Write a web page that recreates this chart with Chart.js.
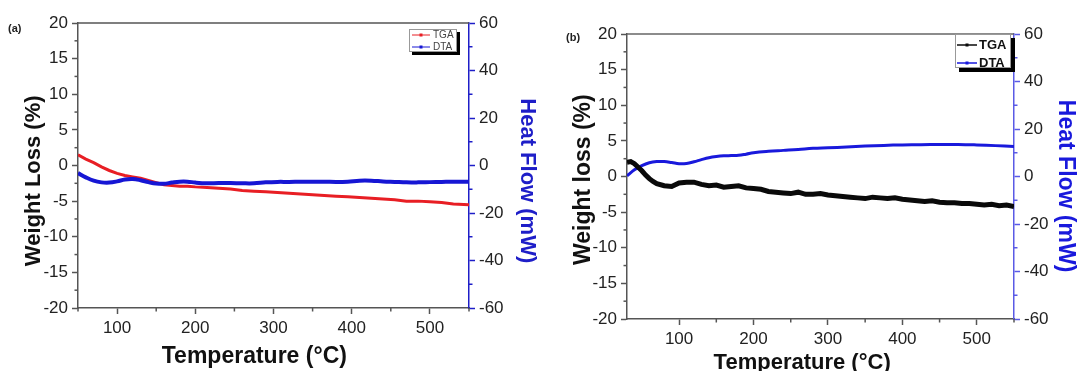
<!DOCTYPE html>
<html>
<head>
<meta charset="utf-8">
<script src="https://cdn.jsdelivr.net/npm/chart.js@4.4.1/dist/chart.umd.min.js"></script>
<style>
  body { margin: 0; background: #fff; }
  #wrap { position: relative; width: 1078px; height: 371px; overflow: hidden; }
  canvas { position: absolute; top: 0; }
  #chartA { left: 0; }
  #chartB { left: 545px; }
</style>
</head>
<body>
<div id="wrap">
  <canvas id="chartA" width="545" height="371"></canvas>
  <canvas id="chartB" width="533" height="371"></canvas>
</div>
<script>
// ---- panel (a) ----
const tempA = [50, 60, 70, 80, 90, 100, 110, 120, 130, 140, 150, 160, 170, 180, 190, 200,
  215, 230, 245, 260, 275, 290, 305, 320, 335, 350, 365, 380, 395, 410, 425, 440, 455,
  470, 485, 500, 515, 530, 550];
const tgaA = [1.5, 0.9, 0.4, -0.2, -0.7, -1.1, -1.4, -1.6, -1.8, -2.1, -2.4, -2.7, -2.8, -2.9, -2.9, -3.0,
  -3.1, -3.2, -3.3, -3.5, -3.6, -3.7, -3.8, -3.9, -4.0, -4.1, -4.2, -4.3, -4.4, -4.5, -4.6, -4.7, -4.8,
  -5.0, -5.0, -5.1, -5.2, -5.4, -5.5];
const dtaA = [-3.2, -5.0, -6.4, -7.1, -7.2, -6.7, -5.9, -5.7, -6.2, -7.0, -7.6, -7.7, -7.2, -6.8, -6.8, -7.2,
  -7.5, -7.4, -7.4, -7.5, -7.5, -7.1, -6.9, -6.9, -6.8, -6.8, -6.8, -6.9, -6.8, -6.4, -6.4, -6.7, -6.9,
  -7.1, -7.1, -7.0, -6.9, -6.8, -6.8];

// ---- panel (b) ----
const tempTgaB = [30, 35, 40, 45, 50, 55, 60, 65, 70, 80, 90, 100, 110, 120, 130, 140, 150, 160, 170,
  180, 190, 200, 210, 220, 230, 240, 250, 260, 270, 280, 290, 300, 310, 320, 330, 340, 350, 360,
  370, 380, 390, 400, 410, 420, 430, 440, 450, 460, 470, 480, 490, 500, 510, 520, 530, 540, 550];
const tgaB = [2.0, 2.1, 1.8, 1.3, 0.8, 0.2, -0.3, -0.7, -1.0, -1.3, -1.4, -0.9, -0.8, -0.8, -1.1, -1.3,
  -1.2, -1.5, -1.4, -1.3, -1.6, -1.7, -1.8, -2.1, -2.2, -2.3, -2.4, -2.2, -2.5, -2.5, -2.4, -2.6, -2.7,
  -2.8, -2.9, -3.0, -3.1, -2.9, -3.0, -3.1, -3.0, -3.2, -3.3, -3.4, -3.5, -3.4, -3.6, -3.7, -3.7, -3.8,
  -3.8, -3.9, -4.0, -3.9, -4.1, -4.0, -4.2];
const tempDtaB = [30, 40, 50, 60, 70, 80, 90, 100, 110, 120, 130, 140, 150, 160, 170, 180, 190, 200,
  220, 240, 260, 280, 300, 325, 350, 375, 400, 425, 450, 475, 500, 525, 550];
const dtaB = [0.3, 2.8, 4.6, 5.8, 6.3, 6.3, 5.9, 5.4, 5.5, 6.2, 7.1, 7.9, 8.4, 8.7, 8.8, 8.9, 9.4, 10.0,
  10.6, 11.0, 11.4, 11.9, 12.1, 12.4, 12.8, 13.1, 13.3, 13.4, 13.5, 13.5, 13.3, 13.0, 12.6];

// axis ranges and tick steps [min, max, minor, major]
const weightAxis = [-20, 20, 2.5, 5];
const heatAxis = [-60, 60, 10, 20];
const tempAxisA = [50, 550, 50, 100];
const tempAxisB = [30, 550, 50, 100];

const FONT = "'Liberation Sans', Arial, Helvetica, sans-serif";
Chart.defaults.font.family = FONT;
Chart.defaults.color = '#222';

const isMultiple = (v, step) => Math.abs(v / step - Math.round(v / step)) < 1e-6;
const pts = (xs, ys) => xs.map((x, i) => ({ x: x, y: ys[i] }));

function axis(o) {
  const [min, max, minor, major] = o.range;
  return {
    type: 'linear',
    position: o.position,
    min: min,
    max: max,
    afterFit: scale => {
      if (o.position === 'bottom') scale.height = o.size; else scale.width = o.size;
    },
    border: { display: true, color: o.color, width: 1.5 },
    grid: {
      drawOnChartArea: false,
      tickLength: 6,
      tickWidth: 1.5,
      tickColor: ctx => (ctx.tick && isMultiple(ctx.tick.value, major)) ? o.color : 'rgba(0,0,0,0)'
    },
    ticks: {
      stepSize: minor,
      padding: 4,
      autoSkip: false,
      maxRotation: 0,
      color: '#222',
      font: { size: 17 },
      callback: v => isMultiple(v, major) ? String(v) : ''
    },
    title: {
      display: true,
      text: o.title,
      color: o.titleColor,
      font: { size: o.titleSize, weight: 'bold', lineHeight: 1.2 },
      padding: o.titlePad
    }
  };
}

// top border, minor ticks, panel label and the shadowed legend box
const framePlugin = {
  id: 'frame',
  afterDraw(chart, args, opts) {
    const { ctx, chartArea: a, scales } = chart;
    ctx.save();
    ctx.strokeStyle = opts.topColor;
    ctx.lineWidth = 1.5;
    ctx.beginPath();
    ctx.moveTo(a.left, a.top);
    ctx.lineTo(a.right, a.top);
    ctx.stroke();

    Object.keys(opts.minor).forEach(id => {
      const s = scales[id];
      const [minor, major] = opts.minor[id];
      ctx.strokeStyle = s.options.border.color;
      ctx.lineWidth = 1.5;
      s.ticks.forEach(t => {
        if (!isMultiple(t.value, minor) || isMultiple(t.value, major)) return;
        const p = s.getPixelForValue(t.value);
        ctx.beginPath();
        if (id === 'x') { ctx.moveTo(p, a.bottom); ctx.lineTo(p, a.bottom + 3.5); }
        else if (id === 'y') { ctx.moveTo(a.left, p); ctx.lineTo(a.left - 3.5, p); }
        else { ctx.moveTo(a.right, p); ctx.lineTo(a.right + 3.5, p); }
        ctx.stroke();
      });
    });

    ctx.fillStyle = '#222';
    ctx.font = 'bold 11px ' + FONT;
    ctx.textBaseline = 'middle';
    ctx.textAlign = 'left';
    ctx.fillText(opts.label, opts.labelPos[0], opts.labelPos[1]);

    const L = opts.legend;
    ctx.fillStyle = '#000';
    ctx.fillRect(L.x + L.shadow, L.y + L.shadow, L.w, L.h);
    ctx.fillStyle = '#fff';
    ctx.fillRect(L.x, L.y, L.w, L.h);
    ctx.strokeStyle = '#999';
    ctx.lineWidth = 1;
    ctx.strokeRect(L.x + 0.5, L.y + 0.5, L.w - 1, L.h - 1);
    ctx.font = L.font;
    chart.data.datasets.forEach((d, i) => {
      const yy = L.y + L.rows[i];
      ctx.strokeStyle = d.borderColor;
      ctx.lineWidth = L.lineWidth;
      ctx.beginPath();
      ctx.moveTo(L.x + L.line[0], yy);
      ctx.lineTo(L.x + L.line[1], yy);
      ctx.stroke();
      ctx.fillStyle = d.borderColor;
      ctx.fillRect(L.x + (L.line[0] + L.line[1]) / 2 - L.dot, yy - L.dot, L.dot * 2, L.dot * 2);
      ctx.fillStyle = L.color;
      ctx.fillText(d.label, L.x + L.textX, yy + 0.5);
    });
    ctx.restore();
  }
};

new Chart(document.getElementById('chartA'), {
  type: 'line',
  data: {
    datasets: [
      { label: 'TGA', data: pts(tempA, tgaA), yAxisID: 'y', borderColor: 'rgb(232,30,36)',
        borderWidth: 3, pointRadius: 0, tension: 0, order: 1 },
      { label: 'DTA', data: pts(tempA, dtaA), yAxisID: 'y1', borderColor: 'rgb(22,22,212)',
        borderWidth: 4, pointRadius: 0, tension: 0.4, order: 0 }
    ]
  },
  options: {
    responsive: false,
    animation: false,
    layout: { padding: { top: 23, left: 0, right: 0, bottom: 0 } },
    plugins: {
      legend: { display: false },
      tooltip: { enabled: false },
      frame: {
        topColor: '#555',
        label: '(a)',
        labelPos: [8, 29],
        minor: { x: [50, 100], y: [2.5, 5], y1: [10, 20] },
        legend: { x: 409, y: 29, w: 48, h: 23, shadow: 3, rows: [6, 18], line: [3, 21], dot: 1.5,
          lineWidth: 1, textX: 24, font: '10px ' + FONT, color: '#444' }
      }
    },
    scales: {
      x: axis({ position: 'bottom', range: tempAxisA, size: 63, color: '#555',
        title: 'Temperature (°C)      ', titleColor: '#111', titleSize: 23, titlePad: { top: 0, bottom: 1 } }),
      y: axis({ position: 'left', range: weightAxis, size: 78, color: '#555',
        title: 'Weight Loss (%)     ', titleColor: '#111', titleSize: 22, titlePad: { top: 21, bottom: 0 } }),
      y1: axis({ position: 'right', range: heatAxis, size: 76, color: 'rgb(30,30,200)',
        title: '     Heat Flow (mW)', titleColor: 'rgb(30,30,200)', titleSize: 22, titlePad: { top: 5, bottom: 0 } })
    }
  },
  plugins: [framePlugin]
});

new Chart(document.getElementById('chartB'), {
  type: 'line',
  data: {
    datasets: [
      { label: 'TGA', data: pts(tempTgaB, tgaB), yAxisID: 'y', borderColor: 'rgb(10,10,10)',
        borderWidth: 5, pointRadius: 0, tension: 0, order: 0 },
      { label: 'DTA', data: pts(tempDtaB, dtaB), yAxisID: 'y1', borderColor: 'rgb(25,25,220)',
        borderWidth: 3, pointRadius: 0, tension: 0.4, order: 1 }
    ]
  },
  options: {
    responsive: false,
    animation: false,
    layout: { padding: { top: 34, left: 0, right: 0, bottom: 0 } },
    plugins: {
      legend: { display: false },
      tooltip: { enabled: false },
      frame: {
        topColor: '#666',
        label: '(b)',
        labelPos: [21, 38],
        minor: { x: [50, 100], y: [2.5, 5], y1: [10, 20] },
        legend: { x: 410, y: 34, w: 56, h: 34, shadow: 4, rows: [11, 29], line: [2, 22], dot: 1.5,
          lineWidth: 1.5, textX: 24, font: 'bold 13px ' + FONT, color: '#111' }
      }
    },
    scales: {
      x: axis({ position: 'bottom', range: tempAxisB, size: 52, color: '#555',
        title: 'Temperature (°C)      ', titleColor: '#111', titleSize: 22, titlePad: { top: 0, bottom: -5 } }),
      y: axis({ position: 'left', range: weightAxis, size: 82, color: '#555',
        title: 'Weight loss (%) ', titleColor: '#111', titleSize: 23, titlePad: { top: 25, bottom: 0 } }),
      y1: axis({ position: 'right', range: heatAxis, size: 64, color: 'rgb(90,90,230)',
        title: '   Heat Flow (mW)', titleColor: 'rgb(25,25,220)', titleSize: 23, titlePad: { top: -1, bottom: 0 } })
    }
  },
  plugins: [framePlugin]
});
</script>
</body>
</html>
